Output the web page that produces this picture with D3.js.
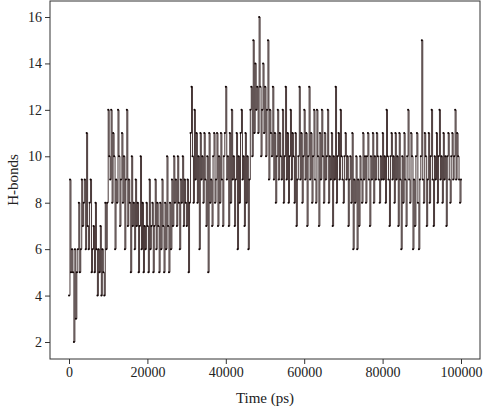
<!DOCTYPE html>
<html><head><meta charset="utf-8">
<script src="https://cdn.jsdelivr.net/npm/d3@7"></script>
<style>body{margin:0;background:#fff}svg{display:block}</style>
</head><body><svg id="c" width="484" height="409"></svg>
<script>
const timeStep = 250;
const hbonds = [
4,9,5,6,5,2,6,3,5,6,8,5,6,9,7,8,9,6,11,7,
6,8,9,5,6,7,5,8,6,4,6,5,7,4,6,5,4,8,6,8,
12,10,9,12,8,11,10,6,9,8,12,10,7,9,11,8,10,6,9,12,
7,9,8,5,10,7,8,6,9,7,8,5,7,10,6,8,5,7,6,8,
7,5,9,6,7,8,5,7,9,6,8,7,5,8,6,9,7,5,8,6,
10,7,5,8,6,9,7,10,8,9,7,10,8,6,9,8,10,7,9,8,
7,9,5,8,11,13,10,8,12,9,11,8,10,6,11,9,10,8,11,9,
7,10,5,11,8,9,7,10,11,8,9,11,7,10,8,11,9,7,10,11,
13,9,10,7,11,8,12,9,10,7,9,11,6,10,8,11,12,9,10,7,
11,8,10,6,9,12,13,10,15,11,14,12,13,11,16,13,10,12,14,11,
13,10,12,15,9,12,11,10,13,9,11,8,10,12,9,11,10,9,12,8,
10,13,9,11,8,10,12,9,11,10,8,11,7,9,10,13,9,11,8,10,
12,9,11,7,10,13,9,11,8,10,12,9,8,12,10,7,11,9,12,10,
8,11,9,10,12,8,10,9,11,7,10,9,13,8,10,11,9,12,10,9,
8,10,11,9,10,7,9,10,8,11,6,9,8,10,6,9,7,10,9,8,
11,9,10,8,10,11,9,7,10,9,11,8,10,9,11,10,9,8,10,9,
11,9,10,8,12,10,9,7,10,11,9,10,8,11,9,10,7,11,9,6,
10,8,11,9,7,10,12,9,8,11,10,6,9,7,10,11,8,6,9,10,
15,9,8,11,10,7,9,11,8,10,12,9,7,10,9,11,8,10,12,9,
10,8,11,9,10,7,10,11,9,8,10,11,9,10,12,9,11,10,9,8,
9];
const xTicks = [0,20000,40000,60000,80000,100000];
const yTicks = [2,4,6,8,10,12,14,16];
const data = hbonds.map((v,i)=>({t:i*timeStep,v}));

const svg = d3.select("#c");
const L=50,R=480,T=1,B=359;
const x = d3.scaleLinear().domain([0,100000]).range([69,461]);
const y = d3.scaleLinear().domain([2,16]).range([342,17]);
const font="'Liberation Serif','DejaVu Serif',serif";

svg.append("rect").attr("x",L).attr("y",T).attr("width",R-L).attr("height",B-T)
  .attr("fill","none").attr("stroke","#333").attr("stroke-width",1);

svg.append("path").datum(data)
  .attr("d",d3.line().x(d=>x(d.t)).y(d=>y(d.v)).curve(d3.curveStepAfter))
  .attr("fill","none").attr("stroke","#1a0606").attr("stroke-width",0.8);
svg.append("g").selectAll("circle").data(data).join("circle")
  .attr("cx",d=>x(d.t)).attr("cy",d=>y(d.v)).attr("r",1).attr("fill","#100404");

const xa = svg.append("g").attr("transform",`translate(0,${B})`)
  .call(d3.axisBottom(x).tickValues(xTicks).tickSize(5).tickSizeOuter(0).tickFormat(d3.format("d")));
const ya = svg.append("g").attr("transform",`translate(${L},0)`)
  .call(d3.axisLeft(y).tickValues(yTicks).tickSize(5).tickSizeOuter(0));
[xa,ya].forEach(a=>{a.select(".domain").remove();
  a.selectAll("line").attr("stroke","#333");
  a.selectAll("text").attr("font-family",font).attr("font-size",14).attr("fill","#222");});
svg.append("text").attr("x",265).attr("y",403).attr("text-anchor","middle")
  .attr("font-family",font).attr("font-size",15).attr("fill","#222").text("Time (ps)");
svg.append("text").attr("transform","translate(18,180) rotate(-90)").attr("text-anchor","middle")
  .attr("font-family",font).attr("font-size",15).attr("fill","#222").text("H-bonds");
</script></body></html>
